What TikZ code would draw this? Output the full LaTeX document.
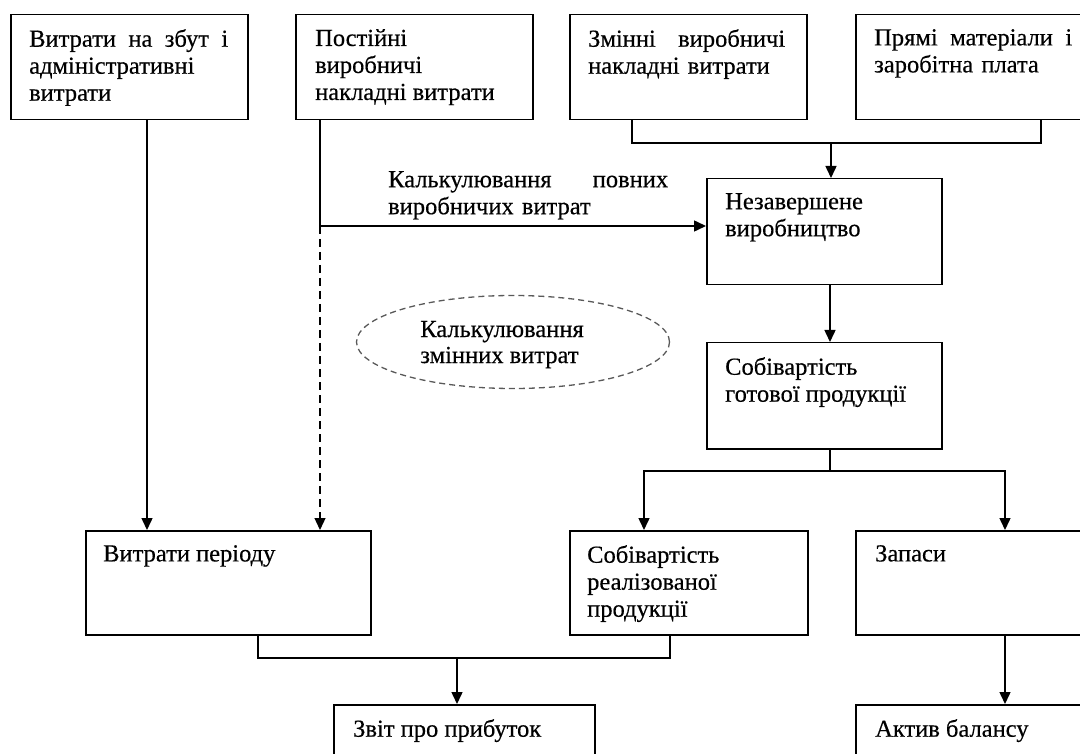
\documentclass[tikz,border=0pt]{standalone}
\usepackage{fontspec}
\setmainfont{Liberation Serif}[FakeBold=0.4]
\usetikzlibrary{arrows.meta,shapes.geometric,calc}
\begin{document}
\begin{tikzpicture}[x=1pt,y=-1pt,
  box/.style={draw, line width=1.5pt, anchor=north west, inner sep=0pt},
  txt/.style={anchor=north west, inner sep=0pt, font=\fontsize{24.5}{27}\selectfont, align=left},
  ln/.style={line width=1.5pt},
  arr/.style={line width=1.5pt, -{Triangle[length=12pt,width=11pt]}},
  dsh/.style={line width=1.3pt, dash pattern=on 8pt off 5pt, -{Triangle[length=12pt,width=11pt]}},
]
\useasboundingbox (0,0) rectangle (1080,754);
\clip (0,0) rectangle (1080,754);

% boxes
\node[box, minimum width=237pt, minimum height=105pt] (A) at (10,14) {};
\node[box, minimum width=237pt, minimum height=105pt] (B) at (295,14) {};
\node[box, minimum width=237pt, minimum height=105pt] (C) at (569,14) {};
\node[box, minimum width=260pt, minimum height=105pt] (D) at (855,14) {};
\node[box, minimum width=235pt, minimum height=106pt] (N) at (706,178) {};
\node[box, minimum width=235pt, minimum height=106pt] (G) at (706,342) {};
\node[box, minimum width=285pt, minimum height=104pt] (P) at (85,530) {};
\node[box, minimum width=238pt, minimum height=104pt] (R) at (569,530) {};
\node[box, minimum width=260pt, minimum height=104pt] (Z) at (855,530) {};
\node[box, minimum width=261pt, minimum height=90pt] (S) at (333,704) {};
\node[box, minimum width=260pt, minimum height=90pt] (K) at (855,704) {};

% texts
\node[txt, text width=199pt] (tA) at (29,29) {Витрати\hfill на\hfill збут\hfill і\\адміністративні\\витрати};
\node[txt] (tB) at (315,29) {Постійні\\виробничі\\накладні витрати};
\node[txt, text width=197pt] (tC) at (588,29) {Змінні\hfill виробничі\\накладні витрати};
\node[txt, text width=198pt] (tD) at (874,29) {Прямі\hfill матеріали\hfill і\\заробітна плата};
\node[txt] (tN) at (725,193) {Незавершене\\виробництво};
\node[txt] (tG) at (725,357) {Собівартість\\готової продукції};
\node[txt] (tP) at (103,545) {Витрати періоду};
\node[txt] (tR) at (587,545) {Собівартість\\реалізованої\\продукції};
\node[txt] (tZ) at (875,545) {Запаси};
\node[txt] (tS) at (353,719) {Звіт про прибуток};
\node[txt] (tK) at (875,719) {Актив балансу};
\node[txt, text width=280pt] (L) at (388,171) {Калькулювання\hfill повних\\виробничих витрат};

% ellipse
\node[draw=black!65, ellipse, line width=1.3pt, dash pattern=on 6pt off 4pt,
      minimum width=313pt, minimum height=93pt, inner sep=0pt,
      font=\fontsize{24.5}{26}\selectfont, align=left, text depth=0pt] (E) at (513,342)
      {\hspace*{-22pt}Калькулювання\\\hspace*{-22pt}змінних витрат};

% connectors
\coordinate (a0) at ([xshift=137pt]A.south west);
\draw[arr] (a0) -- (a0 |- P.north);

\coordinate (b0) at ([xshift=25pt]B.south west);
\coordinate (J) at (b0 |- 0,226);
\draw[ln] (b0) -- (J);
\draw[arr] (J) -- (J -| N.west);
\draw[dsh] (J) -- (J |- P.north);

\coordinate (c0) at ([xshift=63pt]C.south west);
\coordinate (d0) at ([xshift=186pt]D.south west);
\coordinate (cd) at (0,143);
\draw[ln] (c0) -- (c0 |- cd) -- (d0 |- cd) -- (d0);
\coordinate (n0) at ([xshift=125pt]N.north west);
\draw[arr] (n0 |- cd) -- (n0);

\draw[arr] ([xshift=124pt]N.south west) -- ([xshift=124pt]G.north west);

\coordinate (g0) at ([xshift=124pt]G.south west);
\coordinate (gy) at (0,471);
\coordinate (r0) at ([xshift=75pt]R.north west);
\coordinate (z0) at ([xshift=150pt]Z.north west);
\draw[ln] (g0) -- (g0 |- gy);
\draw[arr] (g0 |- gy) -- (r0 |- gy) -- (r0);
\draw[arr] (g0 |- gy) -- (z0 |- gy) -- (z0);

\coordinate (p0) at ([xshift=173pt]P.south west);
\coordinate (q0) at ([xshift=101pt]R.south west);
\coordinate (py) at (0,658);
\coordinate (s0) at ([xshift=124pt]S.north west);
\draw[ln] (p0) -- (p0 |- py) -- (q0 |- py) -- (q0);
\draw[arr] (s0 |- py) -- (s0);

\draw[arr] ([xshift=150pt]Z.south west) -- ([xshift=150pt]K.north west);
\end{tikzpicture}
\end{document}
